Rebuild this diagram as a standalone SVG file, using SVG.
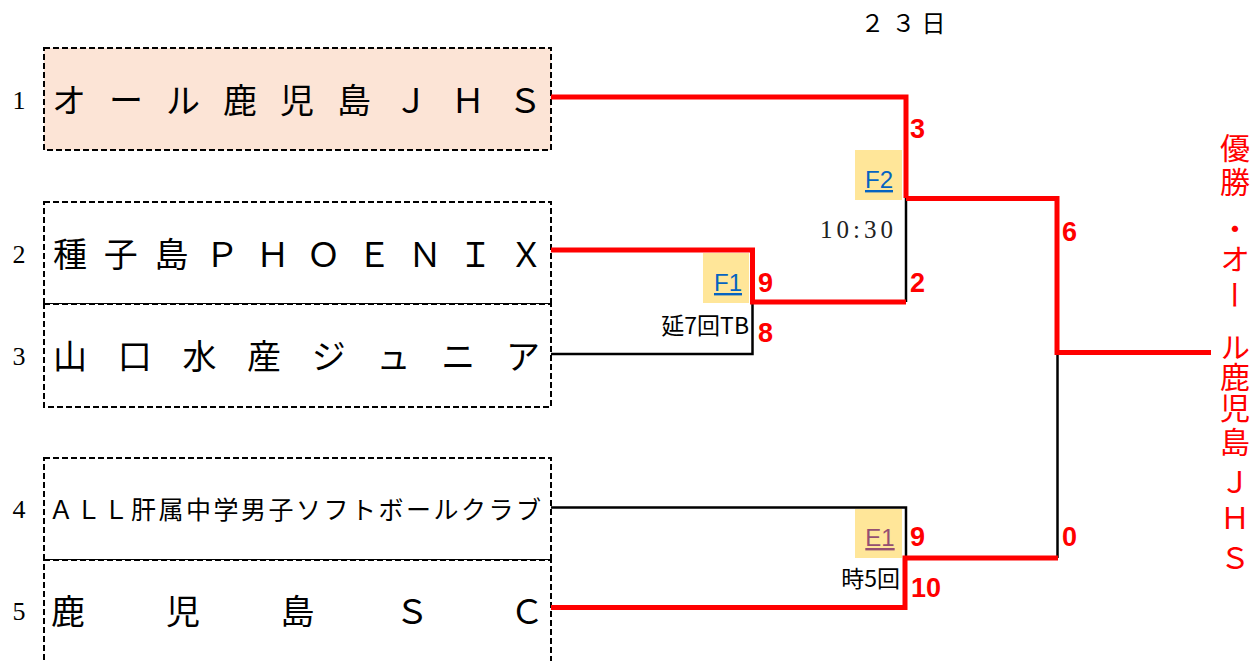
<svg xmlns="http://www.w3.org/2000/svg" width="1258" height="661" viewBox="0 0 1258 661">
<style>
.box{fill:#FFFFFF;stroke:#000;stroke-width:2;stroke-dasharray:6 3}
.seed{fill:#FCE4D6}
.team{font-family:"Liberation Serif","Noto Sans CJK JP",serif;fill:#000;text-anchor:middle}
.num{font-family:"Liberation Serif",serif;font-size:26px;fill:#000;text-anchor:middle}
.hl{fill:#FFE699}
.mid{font-family:"Liberation Sans",Arial,sans-serif;font-size:24px;text-decoration:underline;text-anchor:middle}
.score{font-family:"Liberation Sans",Arial,sans-serif;font-size:27px;font-weight:bold;fill:#FF0000}
.note{font-family:"Noto Sans CJK JP",sans-serif;font-size:23px;fill:#000;text-anchor:end}
.win{stroke:#FF0000;stroke-width:5;fill:none;stroke-linejoin:miter}
.lose{stroke:#000;stroke-width:2.5;fill:none;stroke-linejoin:miter}
.champ{font-family:"Noto Sans CJK JP",sans-serif;font-size:30px;fill:#FF0000;text-anchor:middle;writing-mode:vertical-rl}
</style>

<text x="872.5 903.5 933.5" y="32" style="font-family:'Liberation Serif','Noto Sans CJK JP',serif;font-size:24px;text-anchor:middle">２３日</text>

<g id="team1">
<rect class="box seed" x="44" y="48" width="507" height="102"/>
<text class="num" x="19" y="109">1</text>
<text class="team" font-size="34" x="69 126 183 240 297 354 411 468 525" y="113">オール鹿児島ＪＨＳ</text>
</g>

<g id="team2">
<rect class="box" x="44" y="202" width="507" height="102"/>
<text class="num" x="19" y="263">2</text>
<text class="team" font-size="34" x="70 120.7 171.4 222.1 272.8 323.5 374.2 424.9 475.6 526.3" y="267">種子島ＰＨＯＥＮＩＸ</text>
</g>

<g id="team3">
<rect class="box" x="44" y="304" width="507" height="103"/>
<text class="num" x="19" y="365">3</text>
<text class="team" font-size="34" x="70 134.7 199.4 264.1 328.8 393.5 458.2 522.9" y="369">山口水産ジュニア</text>
</g>

<g id="team4">
<rect class="box" x="44" y="458" width="507" height="102"/>
<text class="num" x="19" y="518">4</text>
<text class="team" font-size="25" x="61 88.5 116 143.5 171 198.5 226 253.5 281 308.5 336 363.5 391 418.5 446 473.5 501 528.5" y="519">ＡＬＬ肝属中学男子ソフトボールクラブ</text>
</g>

<g id="team5">
<rect class="box" x="44" y="560" width="507" height="110"/>
<text class="num" x="19" y="620">5</text>
<text class="team" font-size="34" x="68 183 297.5 412 527" y="624">鹿児島ＳＣ</text>
</g>

<g id="match-F1">
<rect class="hl" x="703" y="253" width="46" height="50"/>
<text class="mid" x="728" y="291" fill="#0563C1">F1</text>
<text class="note" x="749" y="334">延7回TB</text>
</g>

<g id="match-F2">
<rect class="hl" x="855" y="150" width="47" height="50"/>
<text class="mid" x="879" y="188" fill="#0563C1">F2</text>
<text x="893" y="238" textLength="73" lengthAdjust="spacing" style="font-family:'Liberation Serif',serif;font-size:25px;fill:#222;text-anchor:end">10:30</text>
</g>

<g id="match-E1">
<rect class="hl" x="855" y="509" width="47" height="49"/>
<text class="mid" x="880" y="546" fill="#954F72">E1</text>
<text class="note" x="900" y="587">時5回</text>
</g>

<g id="connectors">
<path class="lose" d="M906 198 V302"/>
<path class="lose" d="M752.5 302 V354 H551"/>
<path class="lose" d="M551 507.5 H906 V558"/>
<path class="lose" d="M1057.5 558 V353"/>
<path class="win" d="M551 97 H906 V198"/>
<path class="win" d="M906 198.5 H1057 V352.5 H1211"/>
<path class="win" d="M551 250 H752.5 V302 H906"/>
<path class="win" d="M551 607.5 H905 V558 H1058"/>
</g>

<g id="scores">
<text class="score" x="910" y="138">3</text>
<text class="score" x="910" y="292">2</text>
<text class="score" x="758" y="292">9</text>
<text class="score" x="758" y="342">8</text>
<text class="score" x="1062" y="241">6</text>
<text class="score" x="1062" y="546">0</text>
<text class="score" x="910" y="546">9</text>
<text class="score" x="911" y="597">10</text>
</g>

<g id="champion">
<text class="champ" x="1235" y="148">優</text>
<text class="champ" x="1235" y="182">勝</text>
<text class="champ" x="1235" y="229">・</text>
<text class="champ" x="1235" y="259">オ</text>
<text class="champ" x="1235" y="295">ー</text>
<text class="champ" x="1235" y="347">ル</text>
<text class="champ" x="1235" y="377">鹿</text>
<text class="champ" x="1235" y="408">児</text>
<text class="champ" x="1235" y="442">島</text>
<text class="champ" x="1235" y="482">Ｊ</text>
<text class="champ" x="1235" y="518">Ｈ</text>
<text class="champ" x="1235" y="558">Ｓ</text>
</g>
</svg>
